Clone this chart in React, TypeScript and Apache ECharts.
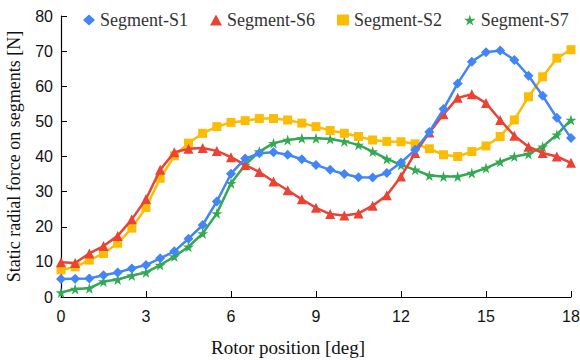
import React, { useEffect, useRef } from "react";
import * as echarts from "echarts";

const positions = [0, 0.5, 1, 1.5, 2, 2.5, 3, 3.5, 4, 4.5, 5, 5.5, 6, 6.5, 7, 7.5, 8, 8.5, 9, 9.5, 10, 10.5, 11, 11.5, 12, 12.5, 13, 13.5, 14, 14.5, 15, 15.5, 16, 16.5, 17, 17.5, 18];

const segS1 = [5.1, 5.2, 5.3, 6.2, 7.0, 8.1, 9.1, 11.0, 13.0, 16.6, 20.5, 27.2, 35.1, 39.4, 40.9, 41.2, 40.5, 39.2, 37.6, 36.2, 35.0, 34.1, 34.0, 35.3, 38.3, 41.9, 47.0, 53.5, 60.8, 67.0, 69.7, 70.2, 67.5, 63.0, 57.3, 51.0, 45.3];
const segS6 = [9.9, 9.7, 12.4, 14.5, 17.4, 22.1, 27.9, 36.2, 41.2, 42.2, 42.4, 41.6, 39.8, 37.6, 35.6, 32.9, 30.4, 27.8, 25.4, 23.6, 23.2, 23.8, 26.0, 29.0, 34.3, 41.0, 46.8, 52.0, 56.7, 57.7, 55.2, 50.4, 45.9, 42.8, 41.0, 40.0, 38.2];
const segS2 = [7.7, 8.6, 10.5, 12.4, 15.3, 19.6, 25.5, 33.8, 40.2, 43.8, 46.6, 48.5, 49.7, 50.2, 50.8, 50.8, 50.4, 49.5, 48.5, 47.4, 46.6, 45.7, 44.7, 44.3, 44.2, 43.6, 42.2, 40.5, 40.0, 41.4, 43.0, 45.7, 50.4, 57.0, 62.7, 68.0, 70.4];
const segS7 = [1.3, 2.3, 2.5, 4.4, 5.0, 6.1, 7.0, 9.1, 11.5, 14.3, 18.1, 23.8, 32.4, 37.6, 41.4, 43.8, 44.7, 45.2, 45.2, 45.0, 44.3, 43.3, 41.4, 39.3, 37.6, 36.2, 34.6, 34.3, 34.3, 35.3, 36.7, 38.5, 40.0, 40.7, 42.8, 46.2, 50.4];

const seriesNames = ["Segment-S1", "Segment-S6", "Segment-S2", "Segment-S7"];
const xTicks = [0, 3, 6, 9, 12, 15, 18];
const yTicks = [0, 10, 20, 30, 40, 50, 60, 70, 80];

const colors = ["#4285F4", "#EA4335", "#FBBC05", "#34A853"];
const STAR = "path://M50,0 L61,35 L98,35 L68,57 L79,91 L50,70 L21,91 L32,57 L2,35 L39,35 Z";
const symbols = ["diamond", "triangle", "rect", STAR];
const sizes = [10, 10, 9, 11];

export default function App() {
  const ref = useRef<HTMLDivElement>(null);
  useEffect(() => {
    if (!ref.current) return;
    const chart = echarts.init(ref.current, undefined, { renderer: "svg" });
    const dataSets = [segS1, segS6, segS2, segS7];
    chart.setOption({
      animation: false,
      color: colors,
      legend: {
        top: 6,
        left: 78,
        itemGap: 22,
        itemWidth: 12,
        itemHeight: 11,
        textStyle: { fontFamily: "Liberation Serif", fontSize: 18, color: "#333" },
        data: seriesNames.map((n, i) => ({ name: n, icon: symbols[i] })),
      },
      grid: { left: 61, right: 9, top: 16, bottom: 63, outerBoundsMode: "none", containLabel: false },
      xAxis: {
        type: "value",
        min: xTicks[0],
        max: xTicks[xTicks.length - 1],
        interval: 3,
        name: "Rotor position [deg]",
        nameLocation: "middle",
        nameGap: 41,
        nameTextStyle: { fontFamily: "Liberation Serif", fontSize: 19, color: "#111", padding: [0, 56, 0, 0] },
        axisLine: { lineStyle: { color: "#000", width: 1.2 } },
        axisTick: { inside: true, length: 6, lineStyle: { color: "#000" } },
        axisLabel: { fontFamily: "Liberation Sans", fontSize: 16, color: "#111", margin: 11 },
        splitLine: { show: false },
      },
      yAxis: {
        type: "value",
        min: yTicks[0],
        max: yTicks[yTicks.length - 1],
        interval: 10,
        name: "Static radial force on segments [N]",
        nameLocation: "middle",
        nameGap: 38,
        nameTextStyle: { fontFamily: "Liberation Serif", fontSize: 18, color: "#111" },
        axisLine: { show: true, lineStyle: { color: "#000", width: 1.2 } },
        axisTick: { show: true, inside: true, length: 6, lineStyle: { color: "#000" } },
        axisLabel: { fontFamily: "Liberation Sans", fontSize: 16, color: "#111", margin: 8 },
        splitLine: { show: false },
      },
      series: dataSets.map((d, i) => ({
        name: seriesNames[i],
        type: "line",
        data: positions.map((x, j) => [x, d[j]]),
        symbol: symbols[i],
        symbolSize: sizes[i],
        lineStyle: { width: 2.5, color: colors[i] },
        itemStyle: { color: colors[i] },
        z: 10 - i,
      })),
    });
    return () => chart.dispose();
  }, []);
  return <div ref={ref} style={{ width: 580, height: 360, position: "absolute", left: 0, top: 0 }} />;
}
